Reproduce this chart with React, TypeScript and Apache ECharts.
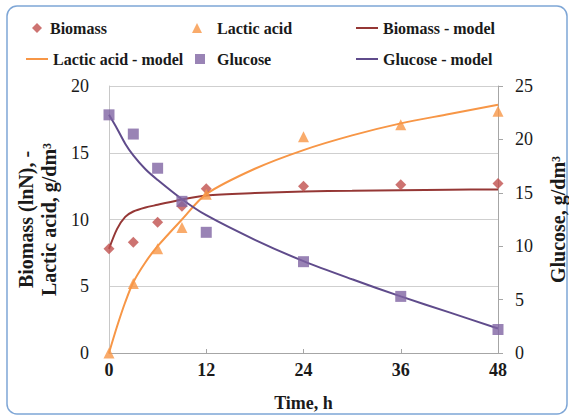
import React, { useEffect, useRef } from "react";
import * as echarts from "echarts";

const sampleTimes = [0, 3, 6, 9, 12, 24, 36, 48];
const biomass = [7.8, 8.3, 9.8, 11.0, 12.3, 12.5, 12.6, 12.7];
const lacticAcid = [0, 5.2, 7.8, 9.4, 11.9, 16.2, 17.1, 18.1];
const glucose = [22.3, 20.5, 17.3, 14.2, 11.3, 8.55, 5.3, 2.2];

const modelTimes = [0, 1, 2, 3, 4.5, 6, 9, 12, 18, 24, 30, 36, 42, 48];
const biomassModel = [7.8, 9.3, 10.2, 10.6, 10.9, 11.1, 11.5, 11.8, 11.98, 12.1, 12.15, 12.2, 12.23, 12.25];
const lacticModel = [0, 2.0, 3.8, 5.3, 6.8, 8.0, 10.0, 11.9, 13.8, 15.2, 16.3, 17.2, 17.9, 18.6];
const glucoseModel = [22.3, 21.0, 19.6, 18.5, 17.2, 16.2, 14.4, 12.9, 10.6, 8.6, 6.9, 5.3, 3.8, 2.3];

const xTicks = [0, 12, 24, 36, 48];

const pairs = (xs: number[], ys: number[]) => xs.map((x, i) => [x, ys[i]]);

const FONT = "Liberation Serif";
const RED = "#c0504d";
const RED_DARK = "#953735";
const ORANGE = "#f79646";
const PURPLE = "#8064a2";
const PURPLE_DARK = "#5f4b8b";

export default function App() {
  const ref = useRef<HTMLDivElement>(null);
  useEffect(() => {
    if (!ref.current) return;
    const chart = echarts.init(ref.current, undefined, { renderer: "svg" });
    const legendText = { fontFamily: FONT, fontWeight: "bold", fontSize: 16, color: "#1a1a1a" };
    const mkLegend = (name: string, left: number, top: number, w: number, h: number, pad: number, icon?: string) => ({
      data: [icon ? { name, icon } : name],
      left,
      top,
      itemWidth: w,
      itemHeight: h,
      padding: 0,
      textStyle: { ...legendText, padding: [0, 0, 0, pad] },
    });
    chart.setOption({
      animation: false,
      textStyle: { fontFamily: FONT },
      graphic: [
        {
          type: "rect",
          shape: { x: 7, y: 6, width: 560, height: 408, r: 10 },
          style: { fill: "none", stroke: "#7ea6d6", lineWidth: 1.5 },
          silent: true,
        },
      ],
      legend: [
        mkLegend("Biomass", 32, 20, 10, 10, 3),
        mkLegend("Lactic acid", 192, 20, 10, 10, 10),
        mkLegend("Biomass - model", 356, 20, 22, 2, 0, "rect"),
        mkLegend("Lactic acid - model", 26, 51, 22, 2, 0, "rect"),
        mkLegend("Glucose", 195, 51, 10, 10, 7),
        mkLegend("Glucose - model", 356, 51, 22, 2, 0, "rect"),
      ],
      grid: { left: 109, right: 71, top: 86, bottom: 66, containLabel: false, outerBoundsMode: "none" },
      xAxis: {
        type: "value",
        min: 0,
        max: 48,
        interval: 12,
        name: "Time, h",
        nameLocation: "middle",
        nameGap: 41,
        nameTextStyle: { fontFamily: FONT, fontWeight: "bold", fontSize: 18, color: "#1a1a1a" },
        axisLine: { show: true, lineStyle: { color: "#a6a6a6", width: 1 } },
        axisTick: { show: true, inside: true, length: 4, lineStyle: { color: "#a6a6a6" } },
        axisLabel: {
          fontFamily: FONT,
          fontWeight: "bold",
          fontSize: 18,
          color: "#1a1a1a",
          margin: 8,
          formatter: (v: number) => (xTicks.includes(v) ? String(v) : ""),
        },
        splitLine: { show: false },
      },
      yAxis: [
        {
          type: "value",
          min: 0,
          max: 20,
          interval: 5,
          name: "Biomass (lnN), -\nLactic acid, g/dm³",
          nameLocation: "middle",
          nameGap: 42,
          nameTextStyle: {
            fontFamily: FONT,
            fontWeight: "bold",
            fontSize: 20,
            lineHeight: 23,
            color: "#1a1a1a",
          },
          axisLine: { show: true, lineStyle: { color: "#c8c8c8", width: 1 } },
          axisTick: { show: false },
          axisLabel: { fontFamily: FONT, fontSize: 18, color: "#1a1a1a", margin: 20 },
          splitLine: { show: true, lineStyle: { color: "#cfcfcf", width: 1 } },
        },
        {
          type: "value",
          min: 0,
          max: 25,
          interval: 5,
          position: "right",
          name: "Glucose, g/dm³",
          nameLocation: "middle",
          nameGap: 50,
          nameRotate: 90,
          nameTextStyle: { fontFamily: FONT, fontWeight: "bold", fontSize: 20, color: "#1a1a1a" },
          axisLine: { show: true, lineStyle: { color: "#a6a6a6", width: 1 } },
          axisTick: { show: true, length: 5, lineStyle: { color: "#a6a6a6" } },
          axisLabel: { fontFamily: FONT, fontSize: 18, color: "#1a1a1a", margin: 17 },
          splitLine: { show: false },
        },
      ],
      series: [
        {
          name: "Biomass - model",
          type: "line",
          data: pairs(modelTimes, biomassModel),
          smooth: 0.3,
          symbol: "none",
          lineStyle: { color: RED_DARK, width: 2 },
          itemStyle: { color: RED_DARK },
          z: 2,
        },
        {
          name: "Lactic acid - model",
          type: "line",
          data: pairs(modelTimes, lacticModel),
          smooth: 0.3,
          symbol: "none",
          lineStyle: { color: ORANGE, width: 2 },
          itemStyle: { color: ORANGE },
          z: 2,
        },
        {
          name: "Glucose - model",
          type: "line",
          yAxisIndex: 1,
          data: pairs(modelTimes, glucoseModel),
          smooth: 0.3,
          symbol: "none",
          lineStyle: { color: PURPLE_DARK, width: 2 },
          itemStyle: { color: PURPLE_DARK },
          z: 2,
        },
        {
          name: "Biomass",
          type: "scatter",
          data: pairs(sampleTimes, biomass),
          symbol: "diamond",
          symbolSize: 11,
          itemStyle: { color: RED },
          z: 3,
        },
        {
          name: "Lactic acid",
          type: "scatter",
          data: pairs(sampleTimes, lacticAcid),
          symbol: "triangle",
          symbolSize: 11,
          itemStyle: { color: ORANGE },
          z: 3,
        },
        {
          name: "Glucose",
          type: "scatter",
          yAxisIndex: 1,
          data: pairs(sampleTimes, glucose),
          symbol: "rect",
          symbolSize: 11,
          itemStyle: { color: PURPLE },
          z: 3,
        },
      ],
    });
    return () => chart.dispose();
  }, []);
  return (
    <div
      ref={ref}
      style={{ position: "absolute", left: 0, top: 0, width: 569, height: 419, background: "#fff" }}
    />
  );
}
